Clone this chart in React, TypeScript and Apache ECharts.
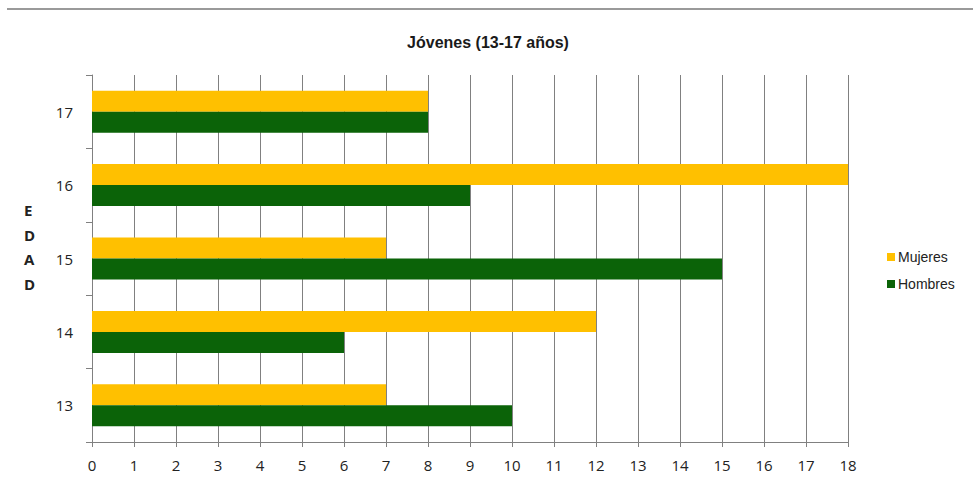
import React, { useEffect, useRef } from "react";
import * as echarts from "echarts";

const categories = ["13", "14", "15", "16", "17"];
const mujeres = [7, 12, 7, 18, 8];
const hombres = [10, 6, 15, 9, 8];
const xTicks = { min: 0, max: 18, interval: 1 };

export default function App() {
  const ref = useRef<HTMLDivElement>(null);
  useEffect(() => {
    document.body.style.margin = "0";
    const chart = echarts.init(ref.current!, null, { renderer: "svg" });
    const narrow = "'Liberation Sans Narrow', 'Liberation Sans', Arial, sans-serif";
    const labelFont = "'Open Sans', 'Noto Sans', sans-serif";
    chart.setOption({
      animation: false,
      backgroundColor: "#ffffff",
      title: {
        text: "Jóvenes (13-17 años)",
        left: 483,
        textAlign: "center",
        top: 29,
        textStyle: { fontFamily: narrow, fontSize: 16, fontWeight: "bold", color: "#1a1a1a" },
      },
      graphic: [
        {
          type: "line",
          shape: { x1: 7, y1: 9, x2: 973, y2: 9 },
          style: { stroke: "#9a9a9a", lineWidth: 2 },
        },
        {
          type: "text",
          left: 24,
          top: 198,
          style: {
            text: "E\nD\nA\nD",
            font: "bold 15px " + labelFont,
            lineHeight: 24.5,
            fill: "#222",
            align: "center",
          },
        },
      ],
      legend: {
        data: ["Mujeres", "Hombres"],
        orient: "vertical",
        left: 882,
        top: 245,
        itemWidth: 8,
        itemHeight: 8,
        itemGap: 13,
        icon: "rect",
        textStyle: { fontFamily: narrow, fontSize: 14, color: "#222", padding: [0, 0, 0, -2] },
      },
      grid: { left: 92, top: 75, width: 756, height: 367, containLabel: false },
      xAxis: {
        type: "value",
        min: xTicks.min,
        max: xTicks.max,
        interval: xTicks.interval,
        axisLine: { show: true, lineStyle: { color: "#808080", width: 1 } },
        axisTick: { show: true, length: 5, lineStyle: { color: "#808080" } },
        splitLine: { show: true, lineStyle: { color: "#808080", width: 1 } },
        axisLabel: { fontFamily: labelFont, fontSize: 15, color: "#222", margin: 15 },
      },
      yAxis: {
        type: "category",
        data: categories,
        axisLine: { show: true, lineStyle: { color: "#808080", width: 1 } },
        axisTick: { show: true, length: 6, lineStyle: { color: "#808080" } },
        axisLabel: { fontFamily: labelFont, fontSize: 15, color: "#222", margin: 19 },
      },
      series: [
        {
          name: "Mujeres",
          type: "bar",
          data: mujeres,
          barWidth: 21,
          barGap: "0%",
          itemStyle: { color: "#ffc000" },
        },
        {
          name: "Hombres",
          type: "bar",
          data: hombres,
          barWidth: 21,
          barGap: "0%",
          itemStyle: { color: "#0b6308" },
        },
      ],
    });
    return () => chart.dispose();
  }, []);
  return <div ref={ref} style={{ width: 973, height: 491 }} />;
}
